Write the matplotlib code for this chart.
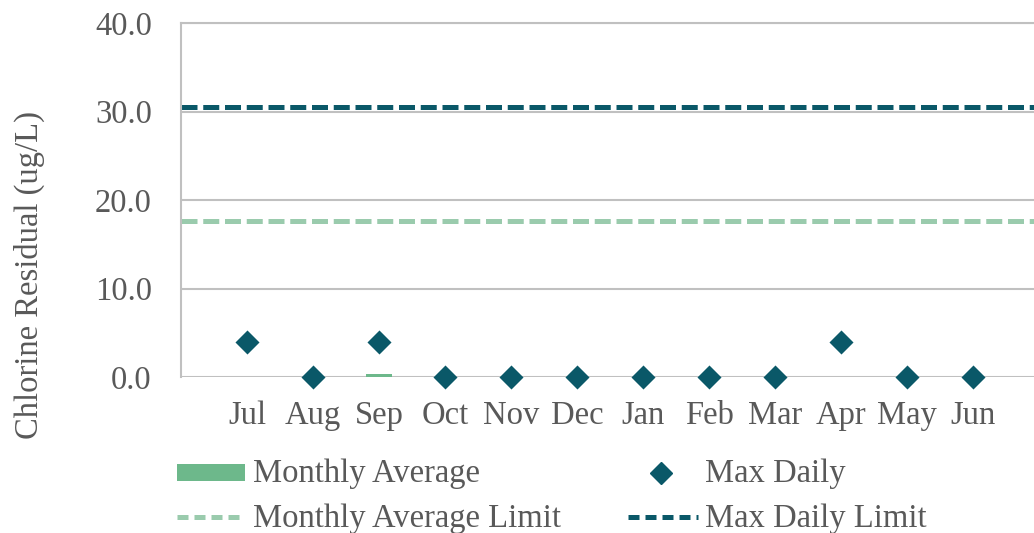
import matplotlib
matplotlib.use("Agg")
import matplotlib.pyplot as plt
from matplotlib.lines import Line2D
from matplotlib.patches import Rectangle

months = ["Jul", "Aug", "Sep", "Oct", "Nov", "Dec", "Jan", "Feb", "Mar", "Apr", "May", "Jun"]
monthly_avg = [0.0, 0.0, 0.3, 0.0, 0.0, 0.0, 0.0, 0.0, 0.0, 0.0, 0.0, 0.0]
max_daily = [4.0, 0.0, 4.0, 0.0, 0.0, 0.0, 0.0, 0.0, 0.0, 4.0, 0.0, 0.0]
monthly_avg_limit = 17.6
max_daily_limit = 30.5

c_bar = "#6DB88B"
c_mlim = "#9ACBAD"
c_dark = "#0A5868"
c_grid = "#C0C0C0"
c_text = "#595959"
FS = 23.5

plt.rcParams["font.family"] = ["Liberation Serif", "DejaVu Serif"]

W, H = 1034, 533
fig = plt.figure(figsize=(W/100, H/100), dpi=100)
ax = fig.add_axes([181/W, 1-377/H, (W-181)/W, (377-23)/H])

x = list(range(len(months)))
ax.bar(x, monthly_avg, width=0.4, color=c_bar, zorder=3)
ax.axhline(monthly_avg_limit, color=c_mlim, lw=3.6, dashes=(3.2, 1.15), zorder=2)
ax.axhline(max_daily_limit, color=c_dark, lw=3.6, dashes=(3.2, 1.15), zorder=2)
ax.scatter(x, max_daily, marker="D", s=150, color=c_dark, zorder=4, clip_on=False, linewidths=0)

ax.set_xlim(-1, 11.92)
ax.set_ylim(0, 40)
ax.set_yticks([0, 10, 20, 30, 40])
ax.set_yticklabels([f"{v:.1f}" for v in [0, 10, 20, 30, 40]])
ax.set_xticks(x)
ax.set_xticklabels(months)
ax.grid(axis="y", color=c_grid, lw=1.5, zorder=0)
for s in ["right", "bottom"]:
    ax.spines[s].set_visible(False)
ax.spines["top"].set_color(c_grid)
ax.spines["top"].set_linewidth(1.5)
ax.spines["left"].set_color(c_grid)
ax.spines["left"].set_linewidth(1.5)
ax.axhline(0, color=c_grid, lw=2, zorder=1)
ax.tick_params(axis="both", length=0, labelsize=FS, colors=c_text)
ax.tick_params(axis="x", pad=17)
ax.tick_params(axis="y", pad=21)
ax.set_ylabel("Chlorine Residual (ug/L)", fontsize=FS, color=c_text)
ax.yaxis.set_label_coords(-(181-45)/(W-181), (377-275)/(377-23))

# legend drawn in figure coordinates
def fx(px):
    return px / W

def fy(py):
    return 1 - py / H

fig.patches.append(Rectangle((fx(177), fy(481)), fx(245)-fx(177), fy(464)-fy(481),
                             transform=fig.transFigure, facecolor=c_bar, edgecolor="none"))
fig.lines.append(Line2D([fx(177), fx(245)], [fy(517), fy(517)], transform=fig.transFigure,
                        color=c_mlim, lw=3.6, dashes=(2.2, 1.2)))
fig.lines.append(Line2D([fx(661)], [fy(473)], transform=fig.transFigure, marker="D",
                        markersize=11, color=c_dark, ls="none"))
fig.lines.append(Line2D([fx(628), fx(698)], [fy(517), fy(517)], transform=fig.transFigure,
                        color=c_dark, lw=3.6, dashes=(2.2, 1.2)))
for tx, ty, lab in [(253, 474, "Monthly Average"), (253, 519, "Monthly Average Limit"),
                    (705, 474, "Max Daily"), (705, 519, "Max Daily Limit")]:
    fig.text(fx(tx), fy(ty), lab, fontsize=FS, color=c_text, ha="left", va="center")

fig.savefig("out.png", dpi=100)
